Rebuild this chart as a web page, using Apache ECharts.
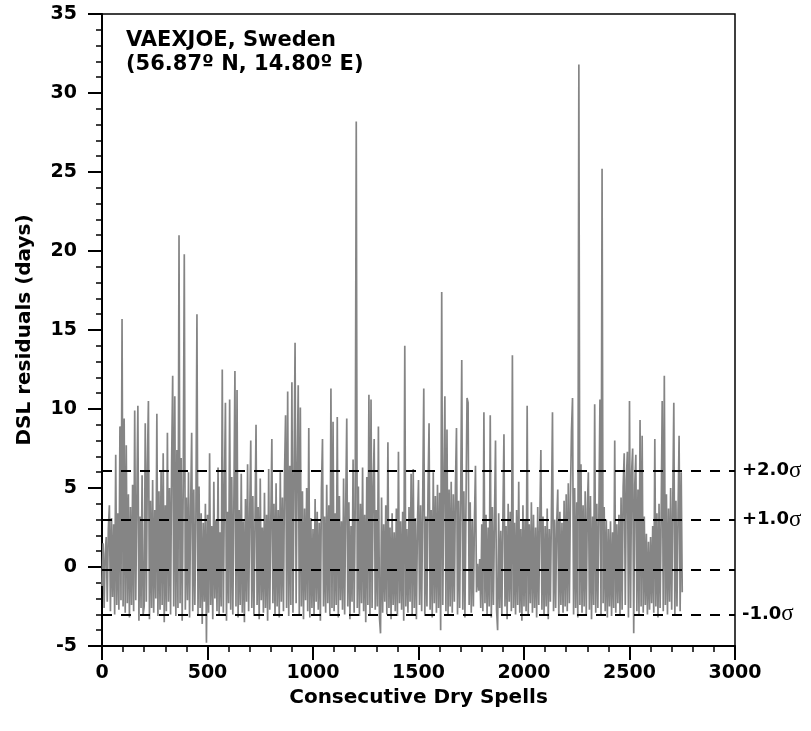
<!DOCTYPE html>
<html>
<head>
<meta charset="utf-8">
<script src="https://cdn.jsdelivr.net/npm/echarts@6/dist/echarts.min.js"></script>
<style>
html,body{margin:0;padding:0;background:#fff;}
#chart{width:811px;height:731px;}
</style>
</head>
<body>
<div id="chart"></div>
<script>
// Spacing (in dry-spell index units) between the values
const spellStep = 5;
// DSL residuals (days), every 5 dry spells, 0 .. 2750
const dslResiduals = [
  -1.2, 1.5, -2.6, 0.8, 1.9, -2.2, 2.4, 3.9, -2.8, 3.1, -1.9, 2.7, -3.0, 7.1, -2.4, 3.4, -2.7, 8.9, -2.1, 15.7,
  -2.5, 9.4, -2.9, 7.7, -2.3, 4.6, -3.2, 3.8, -2.4, 5.2, -2.8, 9.9, -2.1, 4.1, 10.2, -3.4, 3.2, -2.6, 5.8, -3.0,
  -2.5, 9.1, -2.2, 6.4, 10.5, -3.3, 4.2, -2.6, 5.5, -2.9, 3.6, -2.0, 9.7, -3.1, 4.8, -2.7, 6.1, -2.4, 7.2, -3.5,
  3.9, -2.8, 8.5, -2.2, 5.0, -3.0, 6.6, 12.1, -2.5, 10.8, -3.1, 7.4, -2.6, 21.0, -2.3, 6.9, -3.4, 5.3, 19.8, -2.7,
  4.4, -2.1, 6.0, -3.2, 3.7, 8.5, -2.8, 4.9, -2.4, 3.1, 16.0, -3.0, 5.1, -2.6, 3.4, -3.6, 2.8, -2.2, 4.0, -4.8,
  3.3, -2.9, 7.2, -2.4, 2.6, -3.3, 5.4, -2.0, 3.0, -2.8, 6.3, -3.1, 2.2, -2.5, 12.5, -2.9, 4.6, 10.4, -3.4, 3.5,
  -2.3, 10.6, -2.7, 5.7, -3.0, 4.1, 12.4, -2.5, 11.2, -3.2, 3.6, -2.4, 5.9, -2.9, 2.9, -3.5, 4.3, -2.2, 6.5, -2.8,
  3.2, 8.0, -2.6, 4.5, -3.1, 2.7, 9.0, -2.4, 3.8, -3.3, 5.6, -2.1, 2.5, -2.9, 4.7, -2.6, 3.3, -3.4, 6.2, -2.7,
  2.9, 8.1, -2.3, 4.0, -3.0, 5.3, -2.5, 3.6, -3.2, 6.0, -2.2, 4.4, -2.8, 5.8, 9.6, -2.6, 11.1, -3.1, 6.4, -2.4,
  11.7, -2.9, 5.5, 14.2, -2.3, 6.1, 11.5, -3.0, 10.1, -2.5, 4.8, -3.3, 3.7, -2.1, 5.0, -2.8, 8.8, -3.2, 3.1, -2.6,
  2.4, -3.0, 4.3, -2.2, 3.5, -2.7, 2.8, -3.4, 4.9, 8.1, -2.5, 3.2, -2.9, 5.2, -2.3, 3.9, -3.1, 11.3, -2.6, 9.2,
  -2.8, 3.4, -2.4, 9.5, -3.2, 4.5, -2.1, 2.9, -2.7, 5.6, -3.0, 3.7, 9.4, -2.5, 4.1, -3.3, 2.6, -2.2, 6.8, -2.9,
  3.8, 28.2, -2.6, 5.1, -3.1, 4.0, -2.3, 6.3, -2.8, 3.3, -3.5, 5.7, -2.4, 10.9, -3.0, 10.6, -2.6, 5.0, 8.1, -2.7,
  3.6, -2.5, 8.9, -3.2, -4.2, 4.4, -2.9, 2.7, -2.2, 3.9, -3.0, 7.9, -2.6, 2.5, -3.3, 3.4, -2.4, 2.2, -2.8, 3.7,
  -3.1, 7.3, -2.3, 2.9, -2.7, 3.5, -3.4, 14.0, -2.5, 2.4, -2.9, 3.8, -2.2, 5.9, -3.0, 6.2, -2.6, 3.1, -3.3, 2.6,
  5.5, -2.4, 3.9, -2.8, 4.3, 11.3, -3.1, 3.2, -2.5, 4.8, 9.1, -2.7, 3.6, -3.2, 6.0, -2.3, 4.5, -2.9, 5.2, -2.6,
  4.7, -4.0, 17.4, -2.4, 5.0, 10.8, -2.8, 8.7, -3.1, 4.9, -2.5, 5.4, -2.9, 4.6, -2.2, 5.1, 8.8, -3.0, 4.2, -2.6,
  4.4, 13.1, -2.7, 4.8, -3.2, 3.9, 10.7, 10.4, -2.4, 4.1, -2.9, 3.0, -2.5, 2.8, 6.4, -1.6, 0.2, -1.5, 0.5, -2.6,
  2.7, -2.8, 9.8, -2.3, 3.3, -3.0, 2.5, -2.5, 9.6, -3.2, 3.8, -2.4, 2.9, 8.0, -2.7, -4.0, 3.4, -2.6, 2.3, -3.1,
  3.1, 8.4, -2.5, 2.6, -3.3, 4.0, -2.2, 3.5, -2.8, 13.4, -2.6, 2.8, -3.0, 3.6, -2.4, 5.4, -2.9, 2.4, -3.4, 3.9,
  -2.5, 3.0, -2.8, 10.2, -3.1, 2.7, -2.3, 4.1, -2.9, 3.3, -2.6, 2.5, -3.2, 3.8, -2.4, 2.9, 7.4, -2.7, 3.2, -3.0,
  2.6, -2.5, 3.7, -3.3, 2.4, -2.2, 3.4, 9.8, -2.8, 3.0, -2.6, 2.7, 4.9, -3.1, 3.5, -2.4, 2.8, -2.9, 4.2, -2.5,
  4.6, -2.8, 5.3, -2.3, 4.4, 8.6, 10.7, -3.0, 5.0, -2.6, 4.1, -3.2, 31.8, -2.4, 6.5, -2.9, 3.9, -2.5, 4.8, -3.1,
  3.6, 6.0, -2.7, 4.5, -3.3, 3.2, -2.4, 10.3, -2.9, 4.0, -2.6, 3.5, 10.6, -3.0, 25.2, -2.3, 3.8, -2.8, 3.0, -3.2,
  2.4, -2.5, 2.9, -3.1, 2.2, -2.6, 8.0, -2.9, 2.7, -2.3, 3.3, -3.0, 4.4, -2.7, 5.1, 7.2, -2.4, 5.5, 7.3, -3.2,
  10.5, -2.6, 6.0, 7.5, -4.2, 5.2, 7.1, -2.8, 4.9, -3.1, 9.3, -2.5, 8.3, -2.9, 3.2, -2.4, 2.1, -3.0, 1.6, -2.7,
  1.9, -2.3, 2.6, -2.9, 8.1, -2.5, 3.4, -3.2, 4.0, -2.6, 3.1, 10.5, -2.8, 12.1, -2.4, 4.6, -3.0, 3.7, -2.2, 5.0,
  -2.7, 3.9, 10.4, -3.1, 4.2, -2.5, 3.3, 8.3, -2.8, 6.0, -1.6
];
// Reference lines (mean and sigma levels)
const sigmaLevels = [6.1, 3.0, -0.15, -3.0];
const sigmaLabels = ['+2.0', '+1.0', '', '-1.0'];
// Station annotation
const stationLines = ['VAEXJOE, Sweden', '(56.87º N, 14.80º E)'];
const xAxisTitle = 'Consecutive Dry Spells';
const yAxisTitle = 'DSL residuals (days)';

const FONT = 'DejaVu Sans';
const seriesData = dslResiduals.map((v, i) => [i * spellStep, v]);

const chart = echarts.init(document.getElementById('chart'), null, {renderer: 'canvas'});

const markData = sigmaLevels.map((lvl, i) => ({
  yAxis: lvl,
  label: sigmaLabels[i] === '' ? {show: false} : {
    show: true,
    position: 'end',
    distance: 7,
    formatter: '{b|' + sigmaLabels[i] + '}{s|σ}',
    rich: {
      b: {fontFamily: FONT, fontWeight: 'bold', fontSize: 18, color: '#000'},
      s: {fontFamily: 'Liberation Serif', fontWeight: 'normal', fontSize: 23, color: '#000'}
    }
  }
}));

const axisCommon = {
  axisLine: {show: true, onZero: false, lineStyle: {color: '#000', width: 2}},
  axisTick: {show: true, inside: false, length: 14, lineStyle: {color: '#000', width: 2}},
  minorTick: {show: true, splitNumber: 5, length: 6, lineStyle: {color: '#000', width: 1.5}},
  splitLine: {show: false},
  minorSplitLine: {show: false},
  nameTextStyle: {fontFamily: FONT, fontWeight: 'bold', fontSize: 20, color: '#000'}
};

chart.setOption({
  animation: false,
  backgroundColor: '#fff',
  grid: {left: 102, right: 76, top: 14, bottom: 85, show: true, borderColor: '#000', borderWidth: 1.5, backgroundColor: 'transparent'},
  xAxis: Object.assign({}, axisCommon, {
    type: 'value', min: 0, max: 3000, interval: 500,
    axisLabel: {fontFamily: FONT, fontWeight: 'bold', fontSize: 19, color: '#000', margin: 18, formatter: v => String(v)},
    name: xAxisTitle, nameLocation: 'middle', nameGap: 40
  }),
  yAxis: Object.assign({}, axisCommon, {
    type: 'value', min: -5, max: 35, interval: 5,
    axisLabel: {fontFamily: FONT, fontWeight: 'bold', fontSize: 19, color: '#000', margin: 25, formatter: v => String(v)},
    name: yAxisTitle, nameLocation: 'middle', nameGap: 67, nameRotate: 90
  }),
  series: [{
    type: 'line',
    data: seriesData,
    showSymbol: false,
    symbol: 'none',
    lineStyle: {color: '#858585', width: 1.7},
    z: 2,
    markLine: {
      silent: true,
      symbol: 'none',
      animation: false,
      lineStyle: {color: '#000', type: [10, 9], width: 2},
      emphasis: {disabled: true},
      data: markData
    }
  }],
  graphic: stationLines.map((t, i) => ({
    type: 'text',
    x: 126,
    y: 41 + i * 24,
    style: {text: t, fontFamily: FONT, fontWeight: 'bold', fontSize: 21, fill: '#000', align: 'left', verticalAlign: 'middle'}
  }))
});
</script>
</body>
</html>
